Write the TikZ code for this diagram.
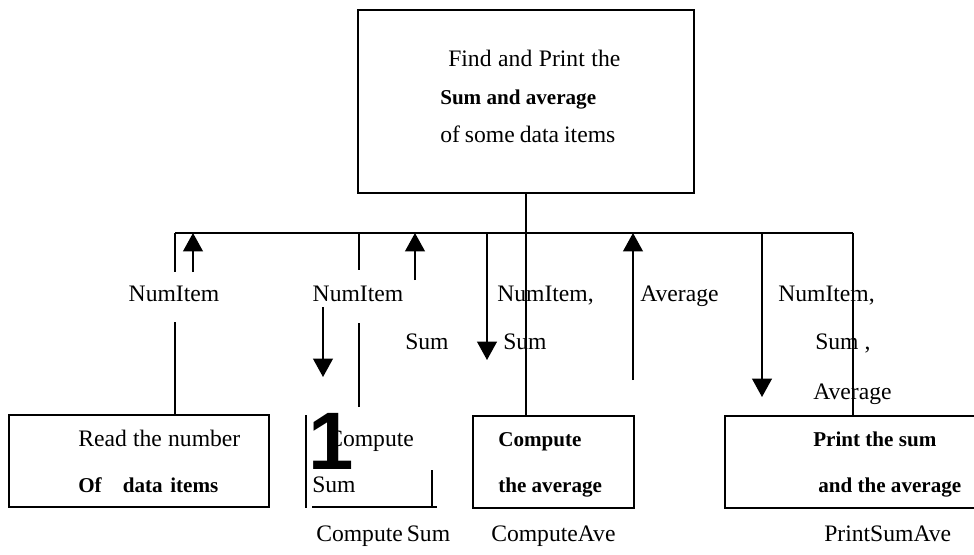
\documentclass[tikz,border=0pt]{standalone}
\usepackage{fontspec}
\setmainfont{Liberation Serif}
\newfontfamily\digitfont{Liberation Sans}
\usetikzlibrary{arrows.meta}

% stretch the word spaces of a label to a given width
\newcommand{\spread}[2]{\makebox[#1][s]{#2}}

\begin{document}
\begin{tikzpicture}[x=0.025cm, y=-0.025cm,
  link/.style={line width=1.2pt},
  dataflow/.style={line width=1.2pt, -{Triangle[width=14pt,length=13pt]}},
  box/.style={draw, line width=1.2pt, inner sep=0pt},
  lbl/.style={anchor=west, inner sep=0pt, font=\fontsize{16.8}{19}\selectfont, text height=1.6ex, text depth=.3ex},
  blbl/.style={lbl, font=\fontsize{15}{18}\selectfont\bfseries}]

  \useasboundingbox (0,0) rectangle (974,554);

  % boxes
  \node[box, minimum width=8.4cm, minimum height=4.575cm] (task) at (526,101.5) {};
  \node[box, minimum width=6.5cm, minimum height=2.3cm] (readbox) at (139,461) {};
  \node[box, minimum width=4.025cm, minimum height=2.3cm] (avebox) at (553.5,462) {};
  \node[box, minimum width=6.625cm, minimum height=2.3cm] (printbox) at (857.5,462) {};

  % open box of the sum module
  \coordinate (sumTL) at (306,415);
  \coordinate (sumBL) at (306,508);
  \coordinate (sumB1) at (312,507);
  \coordinate (sumB2) at (437,507);
  \coordinate (sumTR) at (432,470);
  \draw[link] (sumTL) -- (sumBL);
  \draw[link] (sumB1) -- (sumB2);
  \draw[link] (sumTR) -- (sumTR |- sumB1);

  % bus
  \coordinate (busL) at (175,233);
  \coordinate (busR) at (853,233);
  \draw[link] (busL) -- (busR);
  \draw[link] (task.south) -- (task.south |- avebox.north);

  % lines down to the modules
  \draw[link] (busL) -- ++(0,39);
  \draw[link] (readbox.north -| busL) -- ++(0,-92);
  \coordinate (sumA) at (359,233);
  \draw[link] (sumA) -- ++(0,37);
  \coordinate (sumC) at (359,407);
  \draw[link] (sumC) -- ++(0,-84);
  \draw[link] (busR) -- (busR |- printbox.north);

  % data flows
  \coordinate (f1) at (193,272);
  \draw[dataflow] (f1) -- (f1 |- busL);
  \coordinate (f2) at (323,307);
  \coordinate (f2e) at (323,377);
  \draw[dataflow] (f2) -- (f2e);
  \coordinate (f3) at (415,280);
  \draw[dataflow] (f3) -- (f3 |- busL);
  \coordinate (f4) at (487,360);
  \draw[dataflow] (f4 |- busL) -- (f4);
  \coordinate (f5) at (633,380);
  \draw[dataflow] (f5) -- (f5 |- busL);
  \coordinate (f6) at (762,397);
  \draw[dataflow] (f6 |- busL) -- (f6);

  % texts of the top box
  \node[lbl] (t1) at (448,62) {\spread{4.3cm}{Find and Print the}};
  \node[blbl] (t2) at (440,100) {Sum and average};
  \node[lbl] (t3) at (440,138) {\spread{4.375cm}{of some data items}};

  % flow labels
  \node[lbl, anchor=center] (n1) at (174,297) {NumItem};
  \node[lbl, anchor=center] (n2) at (358,297) {NumItem};
  \node[lbl] (s2) at (405,345) {\spread{1.075cm}{S\hfill u\hfill m}};
  \node[lbl] (n3) at (497,297) {NumItem,};
  \node[lbl] (s3) at (503,345) {Sum};
  \node[lbl] (a3) at (640,297) {Average};
  \node[lbl] (n4) at (778,297) {NumItem,};
  \node[lbl] (s4) at (815,345) {Sum ,};
  \node[lbl] (a4) at (813,395) {Average};

  % module texts
  \node[lbl] (r1) at (78,442) {\spread{4.05cm}{Read the number}};
  \node[blbl] (r2) at (78,488) {\spread{3.5cm}{Of\quad data items}};
  \node[lbl] (c1) at (327,442) {Compute};
  \node[lbl] (c2) at (312,488) {Sum};
  \node[lbl] (c3) at (316,537) {\spread{3.325cm}{Compute Sum}};
  \node[blbl] (v1) at (498,442) {Compute};
  \node[blbl] (v2) at (498,488) {the average};
  \node[lbl] (v3) at (491,537) {ComputeAve};
  \node[blbl] (p1) at (813,442) {Print the sum};
  \node[blbl] (p2) at (818,488) {and the average};
  \node[lbl] (p3) at (824,537) {PrintSumAve};

  \node[inner sep=0pt, font=\digitfont\bfseries\fontsize{58}{58}\selectfont] (one) at (331,441) {1};
\end{tikzpicture}
\end{document}
